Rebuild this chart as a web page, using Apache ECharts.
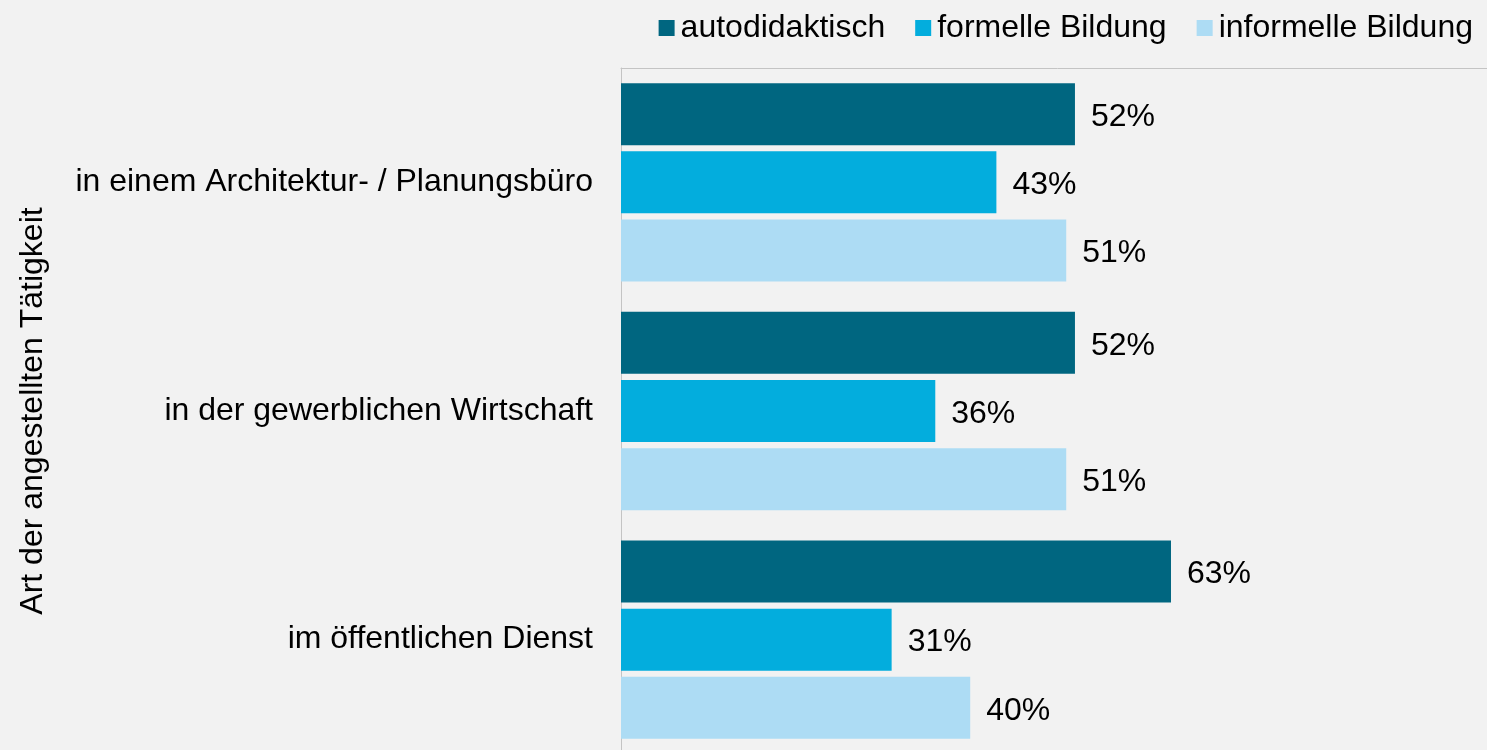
<!DOCTYPE html>
<html>
<head>
<meta charset="utf-8">
<script src="https://cdn.jsdelivr.net/npm/echarts@6/dist/echarts.min.js"></script>
<style>
  html, body { margin: 0; padding: 0; background: #f2f2f2; overflow: hidden; }
  /* the plot area runs slightly past the right and bottom edge of the window */
  #chart { width: 1494px; height: 754px; }
</style>
</head>
<body>
<div id="chart"></div>
<script>
// Kategorien (Art der angestellten Tätigkeit), von oben nach unten
const categories = [
  'in einem Architektur- / Planungsbüro',
  'in der gewerblichen Wirtschaft',
  'im öffentlichen Dienst'
];
// Anteile in Prozent je Lernform
const autodidaktisch = [52, 52, 63];
const formelleBildung = [43, 36, 31];
const informelleBildung = [51, 51, 40];

const seriesNames = ['autodidaktisch', 'formelle Bildung', 'informelle Bildung'];
const seriesData = [autodidaktisch, formelleBildung, informelleBildung];
const colors = ['#006680', '#03addd', '#addcf4'];

const FONT = 'Liberation Sans, Arial, sans-serif';
const FS = 32;

const chart = echarts.init(document.getElementById('chart'), null, { renderer: 'canvas' });

chart.setOption({
  backgroundColor: '#f2f2f2',
  animation: false,
  legend: {
    right: 16,
    top: 7,
    itemWidth: 16,
    itemHeight: 16,
    itemGap: 30,
    icon: 'rect',
    textStyle: { fontFamily: FONT, fontSize: FS, color: '#000', padding: [0, 0, 0, 1] },
    data: seriesNames
  },
  grid: {
    left: 621,
    top: 68,
    right: 0,
    bottom: 0
  },
  xAxis: {
    type: 'value',
    min: 0,
    max: 100,
    position: 'top',
    axisLine: { show: true, lineStyle: { color: '#c4c4c4', width: 1 } },
    axisTick: { show: false },
    axisLabel: { show: false },
    splitLine: { show: false }
  },
  yAxis: {
    type: 'category',
    inverse: true,
    data: categories,
    axisLine: { show: true, lineStyle: { color: '#c4c4c4', width: 1 } },
    axisTick: { show: false },
    axisLabel: { margin: 28, fontFamily: FONT, fontSize: FS, color: '#000', padding: [4, 0, 0, 0] },
    name: 'Art der angestellten Tätigkeit',
    nameLocation: 'middle',
    nameRotate: 90,
    nameGap: 572,
    nameTextStyle: { fontFamily: FONT, fontSize: FS, color: '#000' }
  },
  series: seriesNames.map((name, i) => ({
    name: name,
    type: 'bar',
    data: seriesData[i],
    barWidth: 62,
    barGap: '10%',
    itemStyle: { color: colors[i] },
    label: {
      show: true,
      position: 'right',
      distance: 16,
      offset: [0, 3],
      formatter: p => p.value + '%',
      fontFamily: FONT,
      fontSize: FS,
      color: '#000'
    }
  }))
});
</script>
</body>
</html>
